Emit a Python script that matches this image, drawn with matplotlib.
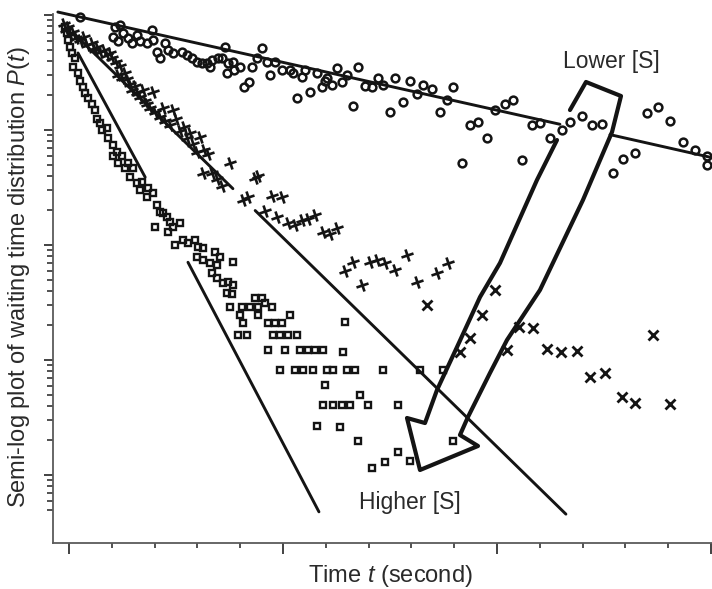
"""
Semi-log waiting time distribution, three substrate concentrations
(hand-drawn style reproduction)
"""

import numpy as np
import matplotlib
matplotlib.use('Agg')
import matplotlib.pyplot as plt
from matplotlib.markers import MarkerStyle
from matplotlib.transforms import Affine2D
from matplotlib.ticker import FixedLocator, NullFormatter

plt.rcParams['font.family'] = ['Liberation Sans', 'DejaVu Sans']
plt.rcParams['mathtext.fontset'] = 'custom'
plt.rcParams['mathtext.rm'] = 'Liberation Sans'
plt.rcParams['mathtext.it'] = 'Liberation Sans:italic'

TEXT_COLOR = '#2a2a2a'
INK = '#141414'

# Data: time t (s) and log10 P(t)
# Lower [S] - circles
CIRCLE_T = [0.26, 1.03, 1.07, 1.14, 1.19, 1.26, 1.38, 1.47, 1.59, 1.66,
            1.82, 1.94, 1.96, 2.06, 2.13, 2.24, 2.31, 2.43, 2.64, 2.76,
            2.87, 2.99, 3.11, 3.22, 3.29, 3.34, 3.48, 3.57, 3.64, 3.69,
            3.71, 3.83, 3.86, 4.00, 4.09, 4.21, 4.28, 4.39, 4.51, 4.63,
            4.70, 4.81, 4.98, 5.16, 5.23, 5.33, 5.45, 5.51, 5.63, 5.79,
            5.91, 5.98, 6.03, 6.14, 6.26, 6.38, 6.50, 6.64, 6.75, 6.92,
            7.08, 7.22, 7.34, 7.50, 7.62, 7.80, 7.97, 8.13, 8.27, 8.48,
            8.67, 8.83, 8.97, 9.18, 9.37, 9.56, 9.77, 9.95, 10.19, 10.37,
            10.58, 10.82, 11.00, 11.24, 11.52, 11.71, 11.99, 12.22, 12.45, 12.71,
            12.94, 13.22, 13.50, 13.76, 14.04, 14.35, 14.63, 14.91, 14.91]
CIRCLE_LOGP = [-0.02, -0.19, -0.10, -0.23, -0.09, -0.16, -0.20, -0.24, -0.17, -0.23,
               -0.24, -0.13, -0.22, -0.32, -0.37, -0.24, -0.30, -0.33, -0.32, -0.35,
               -0.37, -0.41, -0.42, -0.42, -0.45, -0.39, -0.37, -0.37, -0.28, -0.50,
               -0.42, -0.41, -0.48, -0.45, -0.63, -0.58, -0.45, -0.37, -0.29, -0.41,
               -0.52, -0.41, -0.48, -0.48, -0.50, -0.72, -0.54, -0.48, -0.67, -0.50,
               -0.63, -0.57, -0.55, -0.61, -0.46, -0.58, -0.52, -0.79, -0.45, -0.62,
               -0.63, -0.55, -0.61, -0.84, -0.55, -0.76, -0.57, -0.69, -0.61, -0.64,
               -0.84, -0.74, -0.63, -1.29, -0.96, -0.93, -1.07, -0.83, -0.77, -0.74,
               -1.26, -0.96, -0.94, -1.07, -1.00, -0.93, -0.88, -0.96, -0.95, -1.37,
               -1.25, -1.20, -0.85, -0.80, -0.92, -1.10, -1.17, -1.23, -1.30]

# Intermediate [S] - crosses (early part drawn as tilted plus)
PLUS_T = [-0.12, -0.07, -0.02, 0.02, 0.09, 0.16, 0.26, 0.35, 0.42, 0.54,
          0.61, 0.65, 0.72, 0.82, 0.89, 0.96, 1.00, 1.10, 1.14, 1.19,
          1.24, 1.31, 1.36, 1.43, 1.47, 1.54, 1.59, 1.66, 1.73, 1.78,
          1.82, 1.89, 1.96, 2.01, 2.13, 2.20, 2.24, 2.36, 2.43, 2.50,
          2.59, 2.69, 2.76, 2.83, 2.90, 2.99, 3.06, 3.13, 3.15, 3.25,
          3.34, 3.46, 3.57, 3.76, 4.07, 4.18, 4.35, 4.42, 4.58, 4.74,
          4.86, 4.98, 5.12, 5.28, 5.44, 5.58, 5.75, 5.93, 6.10, 6.26,
          6.45, 6.64, 6.85, 7.03, 7.20, 7.38, 7.62, 7.90, 8.13, 8.60, 8.86]
PLUS_LOGP = [-0.08, -0.13, -0.10, -0.17, -0.15, -0.20, -0.22, -0.19, -0.26, -0.24,
             -0.30, -0.28, -0.32, -0.30, -0.35, -0.33, -0.37, -0.41, -0.52, -0.44,
             -0.55, -0.50, -0.56, -0.60, -0.65, -0.62, -0.68, -0.71, -0.65, -0.75,
             -0.77, -0.81, -0.67, -0.84, -0.89, -0.81, -0.92, -0.96, -0.83, -0.90,
             -1.01, -0.97, -1.07, -1.03, -1.12, -1.19, -1.06, -1.37, -1.17, -1.21,
             -1.37, -1.43, -1.49, -1.29, -1.61, -1.58, -1.42, -1.40, -1.70, -1.57,
             -1.76, -1.58, -1.81, -1.83, -1.78, -1.77, -1.74, -1.89, -1.90, -1.85,
             -2.23, -2.15, -2.35, -2.15, -2.13, -2.16, -2.22, -2.09, -2.32, -2.24, -2.16]
XMARK_T = [8.36, 9.14, 9.37, 9.65, 9.95, 10.23, 10.51, 10.84, 11.17, 11.50,
           11.87, 12.17, 12.52, 12.92, 13.22, 13.64, 14.04]
XMARK_LOGP = [-2.52, -2.93, -2.81, -2.61, -2.39, -2.91, -2.71, -2.72, -2.90, -2.93,
              -2.92, -3.15, -3.11, -3.32, -3.37, -2.78, -3.38]

# Higher [S] - squares
SQUARE_T = [-0.09, -0.05, -0.02, 0.02, 0.07, 0.14, 0.09, 0.21, 0.26, 0.33,
            0.37, 0.44, 0.54, 0.61, 0.65, 0.72, 0.77, 0.89, 0.91, 1.03,
            1.12, 1.03, 1.14, 1.24, 1.31, 1.38, 1.43, 1.50, 1.59, 1.66,
            1.71, 1.85, 1.82, 1.96, 2.06, 2.13, 2.01, 2.20, 2.29, 2.36,
            2.43, 2.31, 2.59, 2.48, 2.66, 2.78, 2.94, 3.01, 3.13, 2.99,
            3.13, 3.29, 3.41, 3.53, 3.46, 3.83, 3.34, 3.46, 3.60, 3.71,
            3.83, 3.69, 3.81, 3.76, 4.04, 4.23, 4.42, 4.58, 4.74, 4.51,
            4.35, 4.00, 4.07, 3.95, 4.16, 4.42, 4.65, 4.81, 4.98, 5.16,
            4.77, 4.93, 5.12, 5.33, 4.65, 5.05, 5.40, 5.58, 5.75, 5.93,
            6.45, 6.40, 4.93, 5.28, 5.47, 5.70, 6.03, 6.17, 6.50, 6.68,
            7.34, 8.20, 8.74, 5.98, 5.93, 6.17, 6.38, 6.57, 6.80, 6.99,
            7.69, 5.79, 6.33, 6.75, 7.08, 7.38, 7.69, 7.97, 8.97]
SQUARE_LOGP = [-0.10, -0.16, -0.22, -0.28, -0.33, -0.37, -0.45, -0.50, -0.57, -0.63,
               -0.68, -0.72, -0.77, -0.83, -0.90, -0.94, -1.00, -0.98, -1.07, -1.13,
               -1.19, -1.23, -1.29, -1.23, -1.33, -1.29, -1.41, -1.33, -1.46, -1.52,
               -1.45, -1.50, -1.58, -1.55, -1.65, -1.71, -1.84, -1.72, -1.76, -1.80,
               -1.84, -1.89, -1.81, -2.00, -1.96, -1.98, -1.96, -2.02, -2.03, -2.10,
               -2.13, -2.16, -2.06, -2.10, -2.17, -2.15, -2.24, -2.29, -2.33, -2.32,
               -2.35, -2.42, -2.43, -2.54, -2.54, -2.54, -2.54, -2.50, -2.54, -2.46,
               -2.46, -2.61, -2.68, -2.78, -2.78, -2.61, -2.68, -2.68, -2.68, -2.61,
               -2.78, -2.78, -2.78, -2.78, -2.91, -2.91, -2.91, -2.91, -2.91, -2.91,
               -2.67, -2.93, -3.09, -3.09, -3.09, -3.09, -3.09, -3.09, -3.09, -3.09,
               -3.09, -3.09, -3.09, -3.22, -3.39, -3.39, -3.39, -3.39, -3.30, -3.39,
               -3.39, -3.57, -3.58, -3.70, -3.94, -3.89, -3.80, -3.88, -3.70]

# Single-exponential fits (straight in semi-log), nan = pen lifted
FIT_CIRCLE_T = [-0.26, 11.47, np.nan, 12.64, 15.02]
FIT_CIRCLE_LOGP = [0.026, -0.95, np.nan, -1.04, -1.24]
FIT_CROSS_T = [0.14, 3.83, np.nan, 4.35, 11.61]
FIT_CROSS_LOGP = [-0.17, -1.51, np.nan, -1.70, -4.34]
FIT_SQUARE_T = [0.21, 1.78, np.nan, 2.78, 5.84]
FIT_SQUARE_LOGP = [-0.33, -1.41, np.nan, -2.15, -4.32]

# Hollow arrow outline (axes fraction), from "Lower [S]" to "Higher [S]"
ARROW_X = [0.7845, 0.8088, 0.8619, 0.8483, 0.8042, 0.7390, 0.6889, 0.6631,
           0.6297, 0.6176, 0.6449, 0.5569, 0.5372, 0.5645, 0.5827, 0.6131,
           0.6480, 0.6783, 0.7344, 0.7648]
ARROW_Y = [0.8185, 0.8715, 0.8450, 0.7769, 0.6484, 0.4783, 0.3837, 0.3214,
           0.2382, 0.2042, 0.1834, 0.1380, 0.2363, 0.2268, 0.2892, 0.3705,
           0.4650, 0.5293, 0.6862, 0.7618]


def p(logp):
    return 10.0 ** np.asarray(logp, dtype=float)


fig = plt.figure(figsize=(7.12, 5.89), dpi=100)
ax = fig.add_axes([0.0744, 0.0781, 0.9256, 0.8981])
ax.set_yscale('log')
ax.set_xlim(-0.374, 15.023)
ax.set_ylim(10 ** -4.591, 10 ** 0.0087)

# fit lines
for t, lp in [(FIT_CIRCLE_T, FIT_CIRCLE_LOGP),
              (FIT_CROSS_T, FIT_CROSS_LOGP),
              (FIT_SQUARE_T, FIT_SQUARE_LOGP)]:
    ax.plot(t, p(lp), color=INK, lw=2.1, solid_capstyle='round',
            clip_on=False, zorder=2)

# data points
ax.plot(CIRCLE_T, p(CIRCLE_LOGP), 'o', ms=5.6, mfc='none', mec=INK,
        mew=1.8, clip_on=False, zorder=3)
tilted_plus = MarkerStyle('+', transform=Affine2D().rotate_deg(15))
ax.plot(PLUS_T, p(PLUS_LOGP), ls='none', marker=tilted_plus, ms=9,
        mec=INK, mew=1.9, clip_on=False, zorder=3)
ax.plot(XMARK_T, p(XMARK_LOGP), 'x', ms=7, mec=INK, mew=2.0,
        clip_on=False, zorder=3)
ax.plot(SQUARE_T, p(SQUARE_LOGP), 's', ms=4.8, mfc='none', mec=INK,
        mew=1.7, clip_on=False, zorder=3)

# hollow arrow
ax.plot(ARROW_X, ARROW_Y, color=INK, lw=3.0, transform=ax.transAxes,
        solid_joinstyle='round', solid_capstyle='round', clip_on=False,
        zorder=4)
ax.text(0.8467, 0.9093, 'Lower [S]', transform=ax.transAxes, ha='center',
        va='center', fontsize=16.5, color=TEXT_COLOR)
ax.text(0.5417, 0.0775, 'Higher [S]', transform=ax.transAxes, ha='center',
        va='center', fontsize=16.5, color=TEXT_COLOR)

# axes styling
for side in ['top', 'right']:
    ax.spines[side].set_visible(False)
for side in ['left', 'bottom']:
    ax.spines[side].set_color('#5a5a5a')
    ax.spines[side].set_linewidth(1.3)

ax.xaxis.set_major_locator(FixedLocator([0, 5, 10, 15]))
ax.xaxis.set_minor_locator(FixedLocator(list(range(0, 16))))
ax.yaxis.set_major_locator(FixedLocator([1e-4, 1e-3, 1e-2, 1e-1, 1.0]))
minor_y = [s * 10.0 ** e for e in range(-5, 0) for s in range(2, 10)]
minor_y = [v for v in minor_y if v >= 4.5e-5]
ax.yaxis.set_minor_locator(FixedLocator(minor_y))
for axis in [ax.xaxis, ax.yaxis]:
    axis.set_major_formatter(NullFormatter())
    axis.set_minor_formatter(NullFormatter())

ax.tick_params(axis='x', which='major', direction='out', length=8,
               width=1.2, color='#222222')
ax.tick_params(axis='x', which='minor', direction='out', length=3.8,
               width=1.1, color='#222222')
ax.tick_params(axis='y', which='major', direction='out', length=6.5,
               width=1.2, color='#222222')
ax.tick_params(axis='y', which='minor', direction='out', length=4.3,
               width=1.1, color='#222222')

fig.text(0.0267, 0.530, 'Semi-log plot of waiting time distribution $P(t)$',
         rotation=90, ha='center', va='center', fontsize=17, color=TEXT_COLOR)
fig.text(0.548, 0.022, 'Time $t$ (second)', ha='center', va='center',
         fontsize=17, color=TEXT_COLOR)

fig.savefig('out.png', dpi=100)
